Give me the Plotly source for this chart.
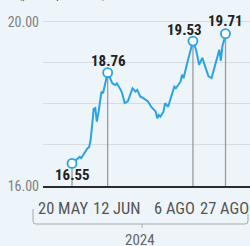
import plotly.graph_objects as go

# ---- data ----
dates = ["2024-05-20", "2024-05-23", "2024-05-25", "2024-05-26", "2024-05-28", "2024-05-30",
         "2024-05-31", "2024-06-01", "2024-06-02", "2024-06-03", "2024-06-04", "2024-06-05",
         "2024-06-06", "2024-06-07", "2024-06-08", "2024-06-09", "2024-06-10", "2024-06-11",
         "2024-06-12", "2024-06-15", "2024-06-17", "2024-06-18", "2024-06-21", "2024-06-23",
         "2024-06-25", "2024-06-28", "2024-06-30", "2024-07-01", "2024-07-03", "2024-07-05",
         "2024-07-08", "2024-07-10", "2024-07-13", "2024-07-14", "2024-07-15", "2024-07-16",
         "2024-07-18", "2024-07-19", "2024-07-21", "2024-07-23", "2024-07-25", "2024-07-26",
         "2024-07-29", "2024-07-30", "2024-07-31", "2024-08-02", "2024-08-04", "2024-08-06",
         "2024-08-08", "2024-08-10", "2024-08-12", "2024-08-14", "2024-08-16", "2024-08-18",
         "2024-08-19", "2024-08-21", "2024-08-23", "2024-08-24", "2024-08-25", "2024-08-26",
         "2024-08-27"]
values = [16.55, 16.66, 16.71, 16.68, 16.80, 16.92,
          16.94, 17.12, 17.49, 17.88, 17.90, 17.57,
          17.77, 18.02, 18.30, 18.26, 18.42, 18.59,
          18.76, 18.50, 18.46, 18.50, 18.30, 18.02,
          18.06, 18.38, 18.30, 18.34, 18.18, 18.14,
          18.06, 17.93, 17.81, 17.65, 17.73, 17.69,
          17.81, 18.02, 17.93, 18.18, 18.42, 18.38,
          18.54, 18.71, 18.63, 18.95, 19.24, 19.53,
          19.32, 18.95, 19.12, 18.89, 18.67, 18.63,
          18.77, 19.10, 19.32, 19.05, 19.41, 19.54,
          19.71]

peak_dates = ["2024-05-20", "2024-06-12", "2024-08-06", "2024-08-27"]
peak_values = [16.55, 18.76, 19.53, 19.71]
peak_labels = ["16.55", "18.76", "19.53", "19.71"]

tick_dates = ["2024-05-20", "2024-06-12", "2024-08-06", "2024-08-27"]
tick_labels = ["20 MAY", "12 JUN", "6 AGO", "27 AGO"]
year_label = "2024"
y_ticks = [16, 17, 18, 19, 20]
y_ticktext = ["16.00", "", "", "", "20.00"]
subtitle = "(pesos por dólar)"

# ---- style ----
BG = "#eef5fa"
BLUE = "#27a3e6"
COND = "Liberation Sans Narrow, Roboto Condensed, Roboto, Arial Narrow, sans-serif"

fig = go.Figure()

# drop lines
for d, v in zip(peak_dates, peak_values):
    fig.add_trace(go.Scatter(x=[d, d], y=[v, y_ticks[0]], mode="lines",
                             line=dict(color="#9b9b9b", width=1.3),
                             hoverinfo="skip", showlegend=False))

fig.add_trace(go.Scatter(x=dates, y=values, mode="lines",
                         line=dict(color=BLUE, width=2), showlegend=False))

fig.add_trace(go.Scatter(x=peak_dates, y=peak_values, mode="markers",
                         marker=dict(symbol="circle", size=9, color="#ffffff",
                                     line=dict(color=BLUE, width=1.8)),
                         showlegend=False))

# value labels
label_shift = [-12, 12, 11, 13]
label_xshift = [0, 1, -8, 0]
for d, v, t, ys, xs in zip(peak_dates, peak_values, peak_labels, label_shift, label_xshift):
    fig.add_annotation(x=d, y=v, text=t, showarrow=False, xanchor="center", yanchor="middle",
                       yshift=ys, xshift=xs,
                       font=dict(family=COND, size=15, color="#222222", weight="bold"))

# x tick labels
tick_xshift = [-9, 9, -18, -1]
for d, t, xs in zip(tick_dates, tick_labels, tick_xshift):
    fig.add_annotation(x=d, y=(186 - 209) / 186.0, yref="paper", text=t, showarrow=False,
                       xanchor="center", yanchor="middle", xshift=xs,
                       font=dict(family=COND, size=16.5, color="#555555"))

# year bracket
def px(x):
    return (x - 43) / 207.0

def py(y):
    return (186 - y) / 186.0

fig.add_shape(type="path", xref="paper", yref="paper",
              path=f"M {px(33)} {py(209)} L {px(33)} {py(221)} Q {px(33)} {py(224)} {px(36)} {py(224)} "
                   f"L {px(245)} {py(224)} Q {px(248)} {py(224)} {px(248)} {py(221)} L {px(248)} {py(214)}",
              line=dict(color="#a8a8a8", width=1))
fig.add_shape(type="line", xref="paper", yref="paper",
              x0=px(142), x1=px(142), y0=py(224), y1=py(228),
              line=dict(color="#a8a8a8", width=1))
fig.add_annotation(x=px(140), y=py(240), xref="paper", yref="paper", text=year_label,
                   showarrow=False, xanchor="center", yanchor="middle",
                   font=dict(family=COND, size=15, color="#666666"))

fig.add_annotation(x=px(62), y=py(-6.5), xref="paper", yref="paper", text=subtitle,
                   showarrow=False, xanchor="center", yanchor="middle",
                   font=dict(family=COND, size=13, color="#555555"))

fig.update_layout(
    width=250, height=246,
    margin=dict(l=43, r=0, t=0, b=60, autoexpand=False),
    paper_bgcolor=BG, plot_bgcolor=BG,
    xaxis=dict(type="date", range=["2024-05-01 07:00", "2024-09-11 19:00"],
               showticklabels=False, showgrid=False, zeroline=False, automargin=False,
               showline=True, linecolor="#2b2b2b", linewidth=2, ticks=""),
    yaxis=dict(range=[16, 20.53], tickvals=y_ticks, ticktext=y_ticktext, automargin=False,
               showgrid=True, gridcolor="#d6dde2", gridwidth=1, zeroline=False,
               showline=False, ticks="", ticklabelstandoff=3,
               tickfont=dict(family=COND, size=14, color="#808080")),
    showlegend=False,
)

fig.write_html("out.html", config={"displayModeBar": False, "staticPlot": True},
               post_script="document.body.style.margin='0';document.body.style.padding='0';"
                           "document.body.style.overflow='hidden';"
                           "document.body.style.background='" + BG + "';")
